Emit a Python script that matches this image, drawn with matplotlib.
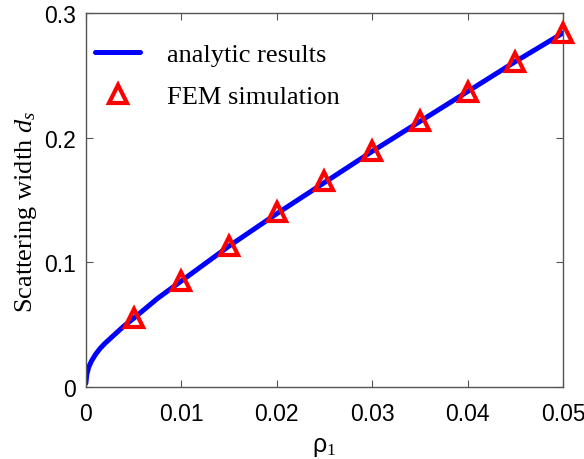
import numpy as np
import matplotlib.pyplot as plt

# analytic curve
rho_curve = [0, 0.0001, 0.0003, 0.0006, 0.001, 0.0015, 0.002, 0.003, 0.004,
             0.005, 0.0075, 0.01, 0.0125, 0.015, 0.02, 0.025, 0.03, 0.035,
             0.04, 0.045, 0.05]
ds_curve = [0.003, 0.010, 0.016, 0.021, 0.026, 0.031, 0.035, 0.042, 0.049,
            0.055, 0.071, 0.085, 0.099, 0.113, 0.139, 0.164, 0.189, 0.213,
            0.237, 0.261, 0.284]

# FEM points
rho_fem = [0.005, 0.01, 0.015, 0.02, 0.025, 0.03, 0.035, 0.04, 0.045, 0.05]
ds_fem = [0.055, 0.085, 0.113, 0.140, 0.165, 0.189, 0.213, 0.237, 0.261, 0.284]

plt.rcParams['mathtext.fontset'] = 'custom'
plt.rcParams['mathtext.rm'] = 'Liberation Serif'
plt.rcParams['mathtext.it'] = 'Liberation Serif:italic'

fig = plt.figure(figsize=(5.84, 4.6), dpi=100)
ax = fig.add_axes([0.147, 0.1565, 0.817, 0.813])

ax.plot(rho_curve, ds_curve, color='#0000ff', linewidth=3.6,
        solid_capstyle='round', label='analytic results', zorder=2)
ax.plot(rho_fem, ds_fem, linestyle='none', marker='^', markersize=13,
        markerfacecolor='none', markeredgecolor='#ff0000',
        markeredgewidth=3, label='FEM simulation', zorder=3, clip_on=False)

ax.set_xlim(0, 0.05)
ax.set_ylim(0, 0.3)
ax.set_xticks([0, 0.01, 0.02, 0.03, 0.04, 0.05])
ax.set_xticklabels(['0', '0.01', '0.02', '0.03', '0.04', '0.05'])
ax.set_yticks([0, 0.1, 0.2, 0.3])
ax.set_yticklabels(['0', '0.1', '0.2', '0.3'])

for sp in ax.spines.values():
    sp.set_color('#555555')
    sp.set_linewidth(1.0)
ax.tick_params(direction='in', top=True, right=True, length=5,
               color='#555555', labelsize=16.5)
ax.tick_params(axis='x', pad=11)
ax.tick_params(axis='y', pad=7)
for lab in ax.get_xticklabels() + ax.get_yticklabels():
    lab.set_family('Liberation Sans')

ax.set_xlabel('ρ$_{1}$', family='Liberation Sans', fontsize=18)
ax.set_ylabel('Scattering width $d_s$', family='Liberation Serif',
              fontsize=19)
ax.xaxis.set_label_coords(0.5, -0.125)
ax.yaxis.set_label_coords(-0.098, 0.47)

ax.legend(loc='upper left', bbox_to_anchor=(0.02, 0.92), frameon=False,
          prop={'family': 'Liberation Serif', 'size': 19}, numpoints=1,
          handlelength=1.7, handletextpad=1.0, labelspacing=0.68,
          borderpad=0, borderaxespad=0)

fig.savefig('out.png', dpi=100)
